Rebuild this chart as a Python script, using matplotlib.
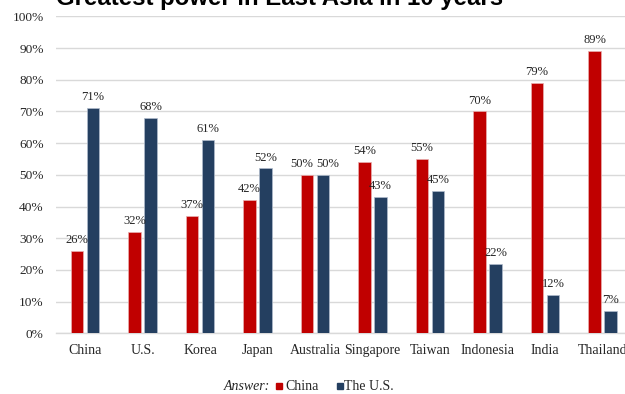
import numpy as np
import matplotlib
matplotlib.use("Agg")
import matplotlib.pyplot as plt
from matplotlib.patches import Rectangle

# survey answers, share of respondents (%)
countries = ["China", "U.S.", "Korea", "Japan", "Australia", "Singapore",
             "Taiwan", "Indonesia", "India", "Thailand"]
china = [26, 32, 37, 42, 50, 54, 55, 70, 79, 89]
usa = [71, 68, 61, 52, 50, 43, 45, 22, 12, 7]
yticks = [0, 10, 20, 30, 40, 50, 60, 70, 80, 90, 100]

RED = "#C00000"
BLUE = "#243F60"
SERIF = "Liberation Serif"
TXT = "#262626"

fig = plt.figure(figsize=(6.25, 3.94), dpi=100)
# axes run a little past the right edge of the figure
ax = fig.add_axes([0.09, 0.154, 0.92, 0.8046])

x = np.arange(len(countries))
w = 0.22
off = 0.14
b1 = ax.bar(x - off, china, w, color=RED, edgecolor="#E8B0B0", linewidth=0.5, zorder=3)
b2 = ax.bar(x + off, usa, w, color=BLUE, edgecolor="#B0BCCC", linewidth=0.5, zorder=3)

# pull apart labels where both bars are equal so they don't collide
for bars, side in ((b1, -1), (b2, 1)):
    for r in bars:
        v = r.get_height()
        dx = 0
        if china[int(round(r.get_x() + r.get_width() / 2))] == usa[int(round(r.get_x() + r.get_width() / 2))]:
            dx = side * 3.5
        ax.annotate(f"{v:.0f}%", (r.get_x() + r.get_width() / 2, v),
                    xytext=(dx, 3.5), textcoords="offset points",
                    ha="center", va="bottom", fontsize=9,
                    family=SERIF, color=TXT)

ax.set_xlim(-0.5, len(countries) - 0.5)
ax.set_ylim(0, 100)
ax.set_yticks(yticks)
ax.set_yticklabels([f"{t}%" for t in yticks], family=SERIF, fontsize=9.6, color=TXT)
ax.set_xticks(x)
ax.set_xticklabels(countries, family=SERIF, fontsize=10, color=TXT)
ax.tick_params(axis="both", length=0)
ax.tick_params(axis="y", pad=9)
ax.tick_params(axis="x", pad=8)
ax.grid(axis="y", color="#D9D9D9", linewidth=1, zorder=0)
for s in ["top", "right", "left"]:
    ax.spines[s].set_visible(False)
ax.spines["bottom"].set_color("#D9D9D9")
ax.spines["bottom"].set_linewidth(1)

fig.text(0.447, 0.987, "Greatest power in East Asia in 10 years",
         ha="center", va="baseline", fontsize=17.3, fontweight="bold",
         family="Liberation Sans", color="black")

# legend line at the bottom
ly = 386 / 394
fig.text(224 / 625, 1 - ly, "Answer:", ha="left", va="center",
         fontsize=10, style="italic", family=SERIF, color=TXT)
fig.add_artist(Rectangle((276 / 625, 1 - ly - 3 / 394), 6 / 625, 6 / 394,
                         transform=fig.transFigure, color=RED))
fig.text(285 / 625, 1 - ly, "China", ha="left", va="center",
         fontsize=10, family=SERIF, color=TXT)
fig.add_artist(Rectangle((337 / 625, 1 - ly - 3 / 394), 6 / 625, 6 / 394,
                         transform=fig.transFigure, color=BLUE))
fig.text(344 / 625, 1 - ly, "The U.S.", ha="left", va="center",
         fontsize=10, family=SERIF, color=TXT)

fig.savefig("out.png", dpi=100)
